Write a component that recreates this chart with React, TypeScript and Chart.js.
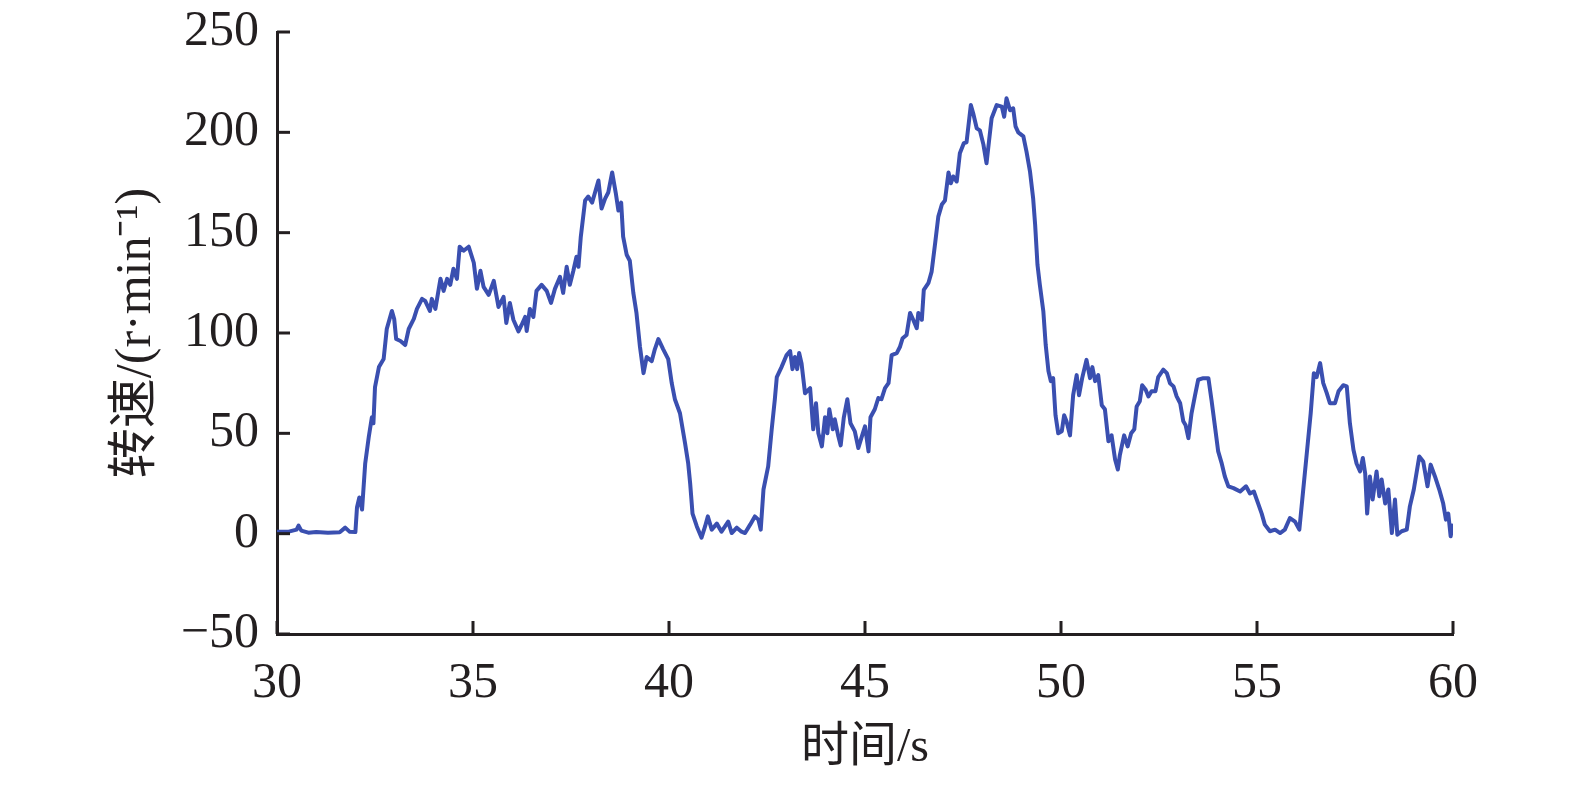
import React, { useEffect, useRef } from "react";
import { Chart, registerables } from "chart.js";

Chart.register(...registerables);

const X_TICKS = [30, 35, 40, 45, 50, 55, 60];
const Y_TICKS = [-50, 0, 50, 100, 150, 200, 250];

const TIME_S = [
  30.0, 30.3, 30.5, 30.55, 30.62, 30.8, 31.0, 31.3, 31.6, 31.74, 31.85, 32.0,
  32.04, 32.1, 32.17, 32.25, 32.34, 32.42, 32.46, 32.5, 32.6, 32.72, 32.8, 32.93,
  32.99, 33.04, 33.15, 33.27, 33.36, 33.49, 33.57, 33.7, 33.78, 33.9, 33.95, 34.04,
  34.17, 34.25, 34.34, 34.42, 34.5, 34.59, 34.66, 34.76, 34.89, 35.02, 35.1, 35.19,
  35.27, 35.4, 35.53, 35.65, 35.78, 35.85, 35.94, 36.03, 36.16, 36.24, 36.33, 36.37,
  36.45, 36.54, 36.62, 36.75, 36.88, 36.99, 37.09, 37.22, 37.3, 37.39, 37.47, 37.56,
  37.64, 37.69, 37.75, 37.86, 37.94, 38.04, 38.2, 38.28, 38.37, 38.45, 38.55, 38.64,
  38.71, 38.78, 38.83, 38.92, 39.0, 39.09, 39.17, 39.26, 39.35, 39.43, 39.56, 39.64,
  39.73, 39.85, 39.98, 40.07, 40.15, 40.28, 40.41, 40.49, 40.54, 40.6, 40.71, 40.83,
  40.92, 40.99, 41.09, 41.22, 41.34, 41.51, 41.6, 41.73, 41.85, 41.94, 42.07, 42.19,
  42.28, 42.34, 42.41, 42.53, 42.62, 42.7, 42.75, 42.87, 43.0, 43.09, 43.15, 43.21,
  43.27, 43.32, 43.38, 43.47, 43.6, 43.68, 43.75, 43.81, 43.9, 43.98, 44.04, 44.09,
  44.18, 44.23, 44.32, 44.38, 44.46, 44.55, 44.63, 44.74, 44.83, 44.92, 45.0, 45.09,
  45.14, 45.25, 45.34, 45.42, 45.51, 45.6, 45.68, 45.81, 45.89, 45.96, 46.06, 46.15,
  46.23, 46.32, 46.36, 46.45, 46.5, 46.62, 46.7, 46.79, 46.87, 46.96, 47.04, 47.13,
  47.19, 47.25, 47.34, 47.42, 47.52, 47.59, 47.7, 47.76, 47.85, 47.93, 48.02, 48.1,
  48.16, 48.23, 48.36, 48.49, 48.55, 48.61, 48.7, 48.78, 48.84, 48.91, 49.04, 49.12,
  49.21, 49.29, 49.34, 49.4, 49.46, 49.55, 49.61, 49.68, 49.74, 49.8, 49.86, 49.93,
  50.02, 50.08, 50.14, 50.23, 50.31, 50.4, 50.46, 50.54, 50.65, 50.74, 50.8, 50.87,
  50.95, 51.04, 51.12, 51.21, 51.29, 51.38, 51.45, 51.5, 51.61, 51.7, 51.79, 51.87,
  51.93, 52.01, 52.07, 52.16, 52.23, 52.31, 52.41, 52.48, 52.61, 52.7, 52.78, 52.87,
  52.95, 53.04, 53.12, 53.18, 53.25, 53.33, 53.42, 53.5, 53.63, 53.76, 53.84, 53.93,
  54.01, 54.1, 54.18, 54.27, 54.4, 54.57, 54.72, 54.82, 54.92, 55.03, 55.12, 55.2,
  55.33, 55.46, 55.59, 55.71, 55.84, 55.97, 56.08, 56.18, 56.27, 56.37, 56.45, 56.52,
  56.61, 56.69, 56.78, 56.86, 56.99, 57.08, 57.2, 57.29, 57.37, 57.46, 57.54, 57.63,
  57.7, 57.76, 57.81, 57.88, 57.95, 58.05, 58.12, 58.18, 58.27, 58.35, 58.44, 58.52,
  58.58, 58.69, 58.82, 58.9, 59.0, 59.14, 59.24, 59.35, 59.43, 59.54, 59.65, 59.75,
  59.82, 59.88, 59.94, 60.0,
];

const SPEED_RPM = [
  1, 1, 2, 4, 1.5, 0.5, 0.8, 0.5, 0.7, 3, 1, 0.8,
  13, 18, 12, 35, 48, 58, 55, 73, 83, 87, 102, 111,
  107, 97, 96, 94, 102, 107, 112, 117, 116, 111, 117, 112,
  127, 121, 127, 124, 132, 127, 143, 141, 143, 135, 122, 131,
  123, 119, 126, 113, 118, 105, 115, 106.6, 100.8, 104, 108, 101,
  112, 108, 121, 124, 121, 115, 122, 128, 120, 133, 124, 131,
  138, 133, 148, 166, 168, 165, 176, 162, 167, 170, 180, 170,
  161, 165, 148, 139, 136, 120, 110, 93, 80, 88, 86, 92,
  97, 92, 87, 75, 67, 60, 45, 35, 25, 10, 3.6, -2,
  3.6, 8.6, 2, 5, 1, 6, 0.3, 3, 1, 0.3, 4.5, 8.6,
  7, 2, 22, 33.5, 52, 67, 78, 83, 89, 91, 82, 88,
  82, 90, 85, 70, 72.5, 52, 65, 50, 43.5, 58, 50, 62,
  52, 57, 48.5, 44, 58, 67, 55, 51, 42.7, 48.5, 53.5, 41,
  58, 62, 67.6, 67, 72.5, 75, 89, 90, 93, 97.4, 99, 110,
  106.6, 102.4, 110, 106.6, 121.5, 125, 130.6, 144.8, 158, 164, 166, 180,
  174.6, 178, 175.5, 189.6, 194.6, 195, 213.6, 209.5, 202, 201, 194, 184.6,
  195, 207, 213.6, 212.8, 207.8, 217, 211, 212, 203, 200, 198, 190.4,
  180.4, 167, 154, 134, 124, 110.7, 94, 81, 76, 77.5, 59, 50,
  51, 59, 56, 49, 69, 79, 69, 77.5, 86.6, 77.5, 83, 76,
  79, 64, 62, 46, 49, 37, 32, 39, 49, 43.5, 50, 52,
  63.4, 66, 74, 71.7, 68.4, 71, 71, 78, 81.7, 80, 75, 73.4,
  68.4, 65, 56, 54, 47.6, 60, 69, 76.7, 77.5, 77.5, 66.5, 53,
  41, 35, 28.5, 23.6, 22.7, 21, 23.6, 20, 21, 15, 10, 4.5,
  1.2, 2, 0.3, 2, 7.8, 6, 2, 22, 40, 60, 80, 78,
  85, 75, 70, 65, 65, 71, 74, 73.4, 55, 41.8, 35, 31,
  37.7, 30, 10, 28.5, 17, 31, 18.6, 27, 15, 22, 0.3, 17,
  -0.5, 1.2, 2, 13.6, 22, 38.5, 36, 23.6, 34.4, 28.5, 22, 15,
  7, 10, -1.3, 5,
];

const X_TITLE = "时间/s";
const Y_TITLE = "转速/(r·min⁻¹)";

const INK = "#231f20";
const LINE_COLOR = "#3a4fb0";
const FONT_FAMILY = "'Liberation Serif', 'Times New Roman', 'Noto Sans CJK SC', serif";

const inwardTicks = {
  id: "inwardTicks",
  afterDraw(chart: any) {
    const { ctx, chartArea, scales } = chart;
    const len = 13;
    ctx.save();
    ctx.strokeStyle = INK;
    ctx.lineWidth = 3;
    ctx.lineCap = "butt";
    for (const v of Y_TICKS) {
      const y = scales.y.getPixelForValue(v);
      ctx.beginPath();
      ctx.moveTo(chartArea.left, y);
      ctx.lineTo(chartArea.left + len, y);
      ctx.stroke();
    }
    for (const v of X_TICKS) {
      const x = scales.x.getPixelForValue(v);
      ctx.beginPath();
      ctx.moveTo(x, chartArea.bottom);
      ctx.lineTo(x, chartArea.bottom - len);
      ctx.stroke();
    }
    ctx.restore();
  },
};

export default function App() {
  const canvasRef = useRef<HTMLCanvasElement | null>(null);

  useEffect(() => {
    if (!canvasRef.current) return;
    const points = TIME_S.map((t, i) => ({ x: t, y: SPEED_RPM[i] }));
    const chart = new Chart(canvasRef.current, {
      type: "line",
      data: {
        datasets: [
          {
            data: points,
            borderColor: LINE_COLOR,
            borderWidth: 4,
            pointRadius: 0,
            tension: 0,
            fill: false,
            borderJoinStyle: "round",
          },
        ],
      },
      options: {
        animation: false,
        responsive: false,
        devicePixelRatio: 1,
        parsing: false as any,
        layout: { padding: { top: 32, right: 122, bottom: 0, left: 0 } },
        plugins: {
          legend: { display: false },
          tooltip: { enabled: false },
        },
        scales: {
          x: {
            type: "linear",
            min: 30,
            max: 60,
            afterFit: (s: any) => {
              s.height = 153;
              s.paddingLeft = 0;
              s.paddingRight = 0;
            },
            afterBuildTicks: (s: any) => {
              s.ticks = X_TICKS.map((v) => ({ value: v }));
            },
            grid: { display: false, drawTicks: false },
            border: { display: true, color: INK, width: 3 },
            ticks: {
              padding: 20,
              color: INK,
              maxRotation: 0,
              autoSkip: false,
              font: { family: FONT_FAMILY, size: 50 },
              callback: (v: any) => String(v),
            },
            title: {
              display: true,
              text: X_TITLE,
              color: INK,
              font: { family: FONT_FAMILY, size: 48 },
              padding: { top: 0, bottom: 10 },
            },
          },
          y: {
            type: "linear",
            min: -50,
            max: 250,
            afterFit: (s: any) => {
              s.width = 277;
              s.paddingTop = 0;
              s.paddingBottom = 0;
            },
            afterBuildTicks: (s: any) => {
              s.ticks = Y_TICKS.map((v) => ({ value: v }));
            },
            grid: { display: false, drawTicks: false },
            border: { display: true, color: INK, width: 3 },
            ticks: {
              padding: 18,
              color: INK,
              autoSkip: false,
              font: { family: FONT_FAMILY, size: 50 },
              callback: (v: any) => String(v).replace("-", "−"),
            },
            title: {
              display: true,
              text: Y_TITLE,
              color: INK,
              font: { family: FONT_FAMILY, size: 50 },
              padding: { top: 107, bottom: 0 },
            },
          },
        },
      },
      plugins: [inwardTicks],
    });
    return () => chart.destroy();
  }, []);

  return (
    <div style={{ position: "absolute", left: 0, top: 0, width: 1575, height: 787, background: "#fff" }}>
      <canvas ref={canvasRef} width={1575} height={787} style={{ display: "block" }} />
    </div>
  );
}
